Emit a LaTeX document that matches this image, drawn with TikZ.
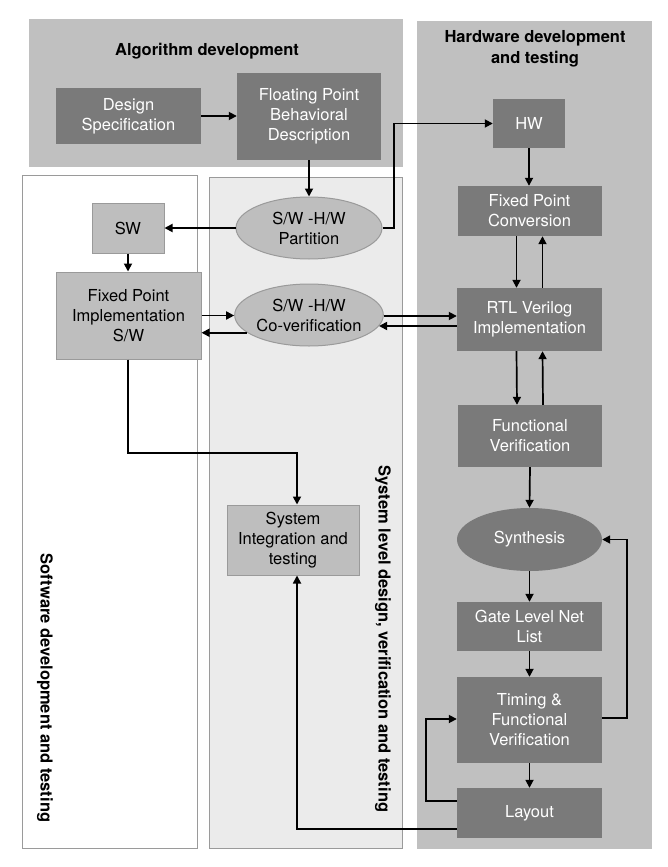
\documentclass[tikz,border=0pt]{standalone}
\usepackage{fontspec}
\setmainfont{TeX Gyre Heros}
\usetikzlibrary{shapes.geometric,arrows.meta}
\definecolor{panel}{HTML}{C0C0C0}
\definecolor{syspanel}{HTML}{EBEBEB}
\definecolor{darkbox}{HTML}{7A7A7A}
\definecolor{lightbox}{HTML}{BEBEBE}
\definecolor{edge}{HTML}{9A9A9A}
\tikzset{
  every node/.style={font=\fontsize{16.5}{20}\selectfont, align=center, inner sep=0pt},
  darkb/.style={rectangle, fill=darkbox, text=white},
  lightb/.style={rectangle, fill=lightbox, draw=edge, line width=1pt},
  darke/.style={ellipse, fill=darkbox, text=white},
  lighte/.style={ellipse, fill=lightbox, draw=edge, line width=1pt},
  conn/.style={line width=1.7pt, -{Triangle[length=8pt,width=8pt]}},
  title/.style={font=\bfseries\fontsize{16.5}{21}\selectfont}
}
\begin{document}
\begin{tikzpicture}[x=1pt,y=-1pt]
\useasboundingbox (0,0) rectangle (668,867);
% panels
\fill[panel] (29,19) rectangle (403,167);
\fill[panel] (417,21) rectangle (652,849);
\draw[edge, line width=1pt, fill=white] (22.5,175) rectangle (197,848);
\draw[edge, line width=1pt, fill=syspanel] (209.5,177) rectangle (402,848);
% titles
\node[title] (tA) at (207,51) {Algorithm development};
\node[title] (tH) at (535,49) {Hardware development\\and testing};
\node[title, rotate=-90] (tS) at (45,688) {Software development and testing};
\node[title, rotate=-90] (tY) at (383,639) {System level design, verification and testing};
% nodes
\node[darkb, minimum width=145pt, minimum height=56pt] (ds) at (128.5,116) {Design\\Specification};
\node[darkb, minimum width=144pt, minimum height=87pt] (fpb) at (309,116.5) {Floating Point\\Behavioral\\Description};
\node[darkb, minimum width=72pt, minimum height=49pt] (hw) at (529,123.5) {HW};
\node[lighte, minimum width=146pt, minimum height=62pt] (part) at (309,228) {S/W -H/W\\Partition};
\node[lightb, minimum width=72pt, minimum height=50pt] (sw) at (128,228) {SW};
\node[lightb, minimum width=145pt, minimum height=87pt] (fpi) at (128.5,315.5) {Fixed Point\\Implementation\\S/W};
\node[lighte, minimum width=146pt, minimum height=62pt] (cov) at (309,315) {S/W -H/W\\Co-verification};
\node[darkb, minimum width=144pt, minimum height=50pt] (fpc) at (529.5,211) {Fixed Point\\Conversion};
\node[darkb, minimum width=145pt, minimum height=63pt] (rtl) at (529.5,319.5) {RTL Verilog\\Implementation};
\node[darkb, minimum width=144pt, minimum height=62pt] (fv) at (530,436) {Functional\\Verification};
\node[darke, minimum width=145pt, minimum height=63pt] (syn) at (529.5,539.5) {Synthesis};
\node[darkb, minimum width=145pt, minimum height=49pt] (gl) at (529.5,626.5) {Gate Level Net\\List};
\node[darkb, minimum width=145pt, minimum height=86pt] (tim) at (529.5,720) {Timing \&\\Functional\\Verification};
\node[darkb, minimum width=145pt, minimum height=50pt] (lay) at (529.5,813) {Layout};
\node[lightb, minimum width=132pt, minimum height=70pt] (sit) at (293,540) {System\\Integration and\\testing};
% connectors
\draw[conn] (ds.east) -- (ds.east -| fpb.west);
\draw[conn] (fpb.south) -- (part.north);
\coordinate (pr) at (394,228);
\coordinate (pt) at (394,123.5);
\draw[conn] (part.east) -- (pr) -- (pt) -- (hw.west);
\draw[conn] (part.west) -- (sw.east);
\draw[conn] (sw.south) -- (sw.south |- fpi.north);
\draw[conn] (fpi.east) -- (fpi.east -| cov.west);
\draw[conn] (cov.196) -- (cov.196 -| fpi.east);
\draw[conn] ([yshift=3.5pt]rtl.west -| cov.east) -- ([yshift=3.5pt]rtl.west);
\draw[conn] ([yshift=-6.5pt]rtl.west) -- ([yshift=-6.5pt]rtl.west -| cov.-9);
\draw[conn] (hw.south) -- (hw.south |- fpc.north);
\draw[conn] ([xshift=-13pt]fpc.south) -- ([xshift=-13pt]rtl.north);
\draw[conn] ([xshift=13pt]rtl.north) -- ([xshift=13pt]fpc.south);
\draw[conn] ([xshift=-13pt]rtl.south) -- ([xshift=-13pt]fv.north);
\draw[conn] ([xshift=13pt]fv.north) -- ([xshift=13pt]rtl.south);
\draw[conn] (fv.south) -- (syn.north);
\draw[conn] (syn.south) -- (gl.north);
\draw[conn] (gl.south) -- (tim.north);
\draw[conn] (tim.south) -- (lay.north);
\coordinate (fbA) at (627,718);
\coordinate (fbB) at (627,539.5);
\draw[conn] ([yshift=2pt]tim.east) -- (fbA) -- (fbB) -- (syn.east);
\coordinate (lbA) at (426,801);
\coordinate (lbB) at (426,719);
\draw[conn] ([yshift=12pt]lay.west) -- (lbA) -- (lbB) -- (lbB -| tim.west);
\coordinate (lsA) at (297,829);
\draw[conn] ([yshift=-16pt]lay.west) -- (lsA) -- (lsA |- sit.south);
\coordinate (fsA) at (128,453);
\coordinate (fsB) at (297,453);
\draw[conn] (fsA |- fpi.south) -- (fsA) -- (fsB) -- (fsB |- sit.north);
\end{tikzpicture}
\end{document}
